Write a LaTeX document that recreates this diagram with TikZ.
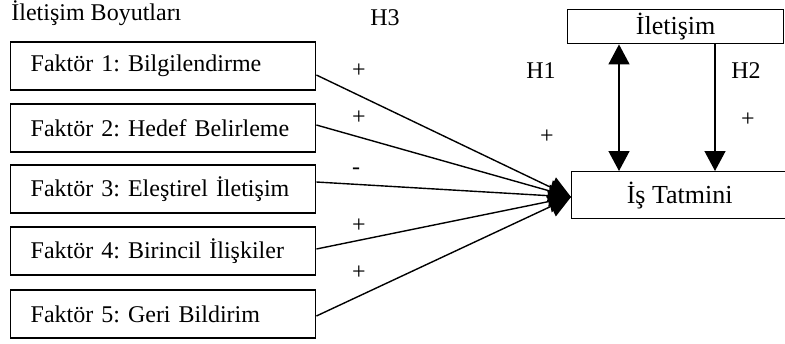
\documentclass[tikz,border=0pt]{standalone}
\usepackage{fontspec}
\setmainfont{Liberation Serif}
\usetikzlibrary{arrows.meta}
\frenchspacing
\begin{document}
\begin{tikzpicture}[x=0.5pt,y=-0.5pt,
  every node/.style={font=\fontsize{12}{14}\selectfont},
  factor/.style={draw,line width=0.7pt,rectangle,minimum height=24pt,
    text width=132.5pt,inner xsep=10pt,inner ysep=0pt,align=left},
  bigbox/.style={draw,line width=0.7pt,rectangle,inner sep=0pt,
    font=\fontsize{13}{15}\selectfont},
  link/.style={line width=0.7pt,-{Triangle[length=10pt,width=10.5pt]}},
  fan/.style={line width=0.7pt,-{Triangle[length=11pt,width=11pt]}},
  lbl/.style={inner sep=0pt}]
\useasboundingbox (0,0) rectangle (785,343);

% heading
\node[lbl,anchor=west] (title) at (11,13) {İletişim Boyutları};

% factor boxes
\node[factor,anchor=west] (f1) at (10,66)  {Faktör 1: Bilgilendirme};
\node[factor,anchor=west] (f2) at (10,128) {Faktör 2: Hedef Belirleme};
\node[factor,anchor=west] (f3) at (10,189) {Faktör 3: Eleştirel İletişim};
\node[factor,anchor=west] (f4) at (10,251) {Faktör 4: Birincil İlişkiler};
\node[factor,anchor=west] (f5) at (10,314) {Faktör 5: Geri Bildirim};

% outcome and communication boxes
\node[bigbox,minimum width=108pt,minimum height=23.5pt,anchor=north west] (tat) at (571,171) {İş Tatmini};
\node[bigbox,minimum width=108pt,minimum height=17pt,anchor=north west] (ilet) at (567,9) {İletişim};

% converging paths
\coordinate (tip) at (571,197);
\draw[fan] ([yshift=-4.5pt]f1.east) -- (tip);
\draw[fan] ([yshift=1.5pt]f2.east) -- (tip);
\draw[fan] ([yshift=3.5pt]f3.east) -- (tip);
\draw[fan] ([yshift=1pt]f4.east) -- (tip);
\draw[fan] ([yshift=-1pt]f5.east) -- (tip);

% paths between İletişim and İş Tatmini
\coordinate (c1) at (619,0);
\coordinate (c2) at (715,0);
\draw[line width=0.7pt,{Triangle[length=10pt,width=10.5pt]}-{Triangle[length=10pt,width=10.5pt]}]
  (ilet.south -| c1) -- (tat.north -| c1);
\draw[link] (ilet.south -| c2) -- (tat.north -| c2);

% hypothesis labels and signs
\node[lbl] (h3) at (385,18) {H3};
\node[lbl] (s1) at (359,71) {+};
\node[lbl] (s2) at (359,118) {+};
\node[lbl] (s3) at (356,171) {-};
\node[lbl] (s4) at (359,226) {+};
\node[lbl] (s5) at (359,273) {+};
\node[lbl] (h1) at (541,71) {H1};
\node[lbl] (s6) at (547,137) {+};
\node[lbl] (h2) at (746,71) {H2};
\node[lbl] (s7) at (748,120) {+};
\end{tikzpicture}
\end{document}
